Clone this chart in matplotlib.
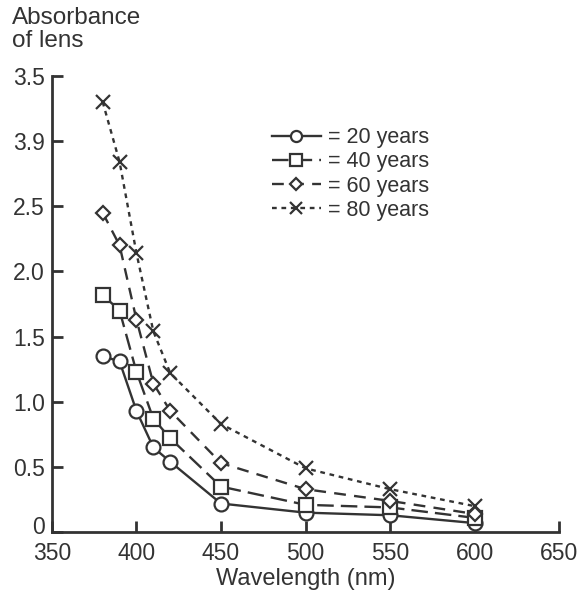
import matplotlib.pyplot as plt
from matplotlib.transforms import ScaledTranslation

plt.rcParams['font.family'] = ['Liberation Sans', 'DejaVu Sans']

# Absorbance of the lens at each wavelength, by age
wavelength = [380, 390, 400, 410, 420, 450, 500, 550, 600]
age_20 = [1.35, 1.31, 0.93, 0.65, 0.54, 0.22, 0.15, 0.13, 0.07]
age_40 = [1.82, 1.70, 1.23, 0.87, 0.72, 0.35, 0.21, 0.19, 0.11]
age_60 = [2.45, 2.20, 1.63, 1.14, 0.93, 0.53, 0.33, 0.24, 0.14]
age_80 = [3.30, 2.84, 2.14, 1.54, 1.22, 0.83, 0.49, 0.33, 0.20]

y_ticks = [0, 0.5, 1.0, 1.5, 2.0, 2.5, 3.0, 3.5]
y_tick_labels = ['0', '0.5', '1.0', '1.5', '2.0', '2.5', '3.9', '3.5']
x_ticks = [350, 400, 450, 500, 550, 600, 650]

ink = '#333333'

fig = plt.figure(figsize=(5.77, 5.92), dpi=100)
ax = fig.add_axes([0.090, 0.101, 0.879, 0.771])

series = [
    (age_20, 'o', '-', '= 20 years'),
    (age_40, 's', (0, (7, 3)), '= 40 years'),
    (age_60, 'D', (0, (5, 3.5)), '= 60 years'),
    (age_80, 'x', (0, (2, 2)), '= 80 years'),
]
for values, marker, style, label in series:
    size = 7.5 if marker == 'D' else 10
    ax.plot(wavelength, values, linestyle=style, color=ink, linewidth=1.7,
            marker=marker, markersize=size, markerfacecolor='white',
            markeredgecolor=ink, markeredgewidth=1.6, label=label)

ax.set_xlim(350, 650)
ax.set_ylim(0, 3.5)
ax.set_xticks(x_ticks)
ax.set_yticks(y_ticks)
ax.set_yticklabels(y_tick_labels)
ax.tick_params(direction='in', length=8, width=2, colors=ink, labelsize=16.5)
ax.tick_params(axis='x', pad=7)
ax.tick_params(axis='y', pad=5)
for side in ['top', 'right']:
    ax.spines[side].set_visible(False)
for side in ['left', 'bottom']:
    ax.spines[side].set_linewidth(2)
    ax.spines[side].set_color(ink)

# lift the "0" a little so it clears the "350" below it
zero_label = ax.get_yticklabels()[0]
zero_label.set_transform(zero_label.get_transform()
                         + ScaledTranslation(0, 5 / 72, fig.dpi_scale_trans))

ax.set_xlabel('Wavelength (nm)', fontsize=17, color=ink, labelpad=2)
fig.text(0.02, 0.988, 'Absorbance\nof lens', fontsize=17.5, color=ink,
         va='top', ha='left', linespacing=1.05)

ax.legend(loc='upper left', bbox_to_anchor=(0.395, 0.93), frameon=False,
          fontsize=15.5, handlelength=2.3, handletextpad=0.3,
          labelspacing=0.15, labelcolor=ink, markerscale=0.8)

fig.savefig('out.png', dpi=100)
